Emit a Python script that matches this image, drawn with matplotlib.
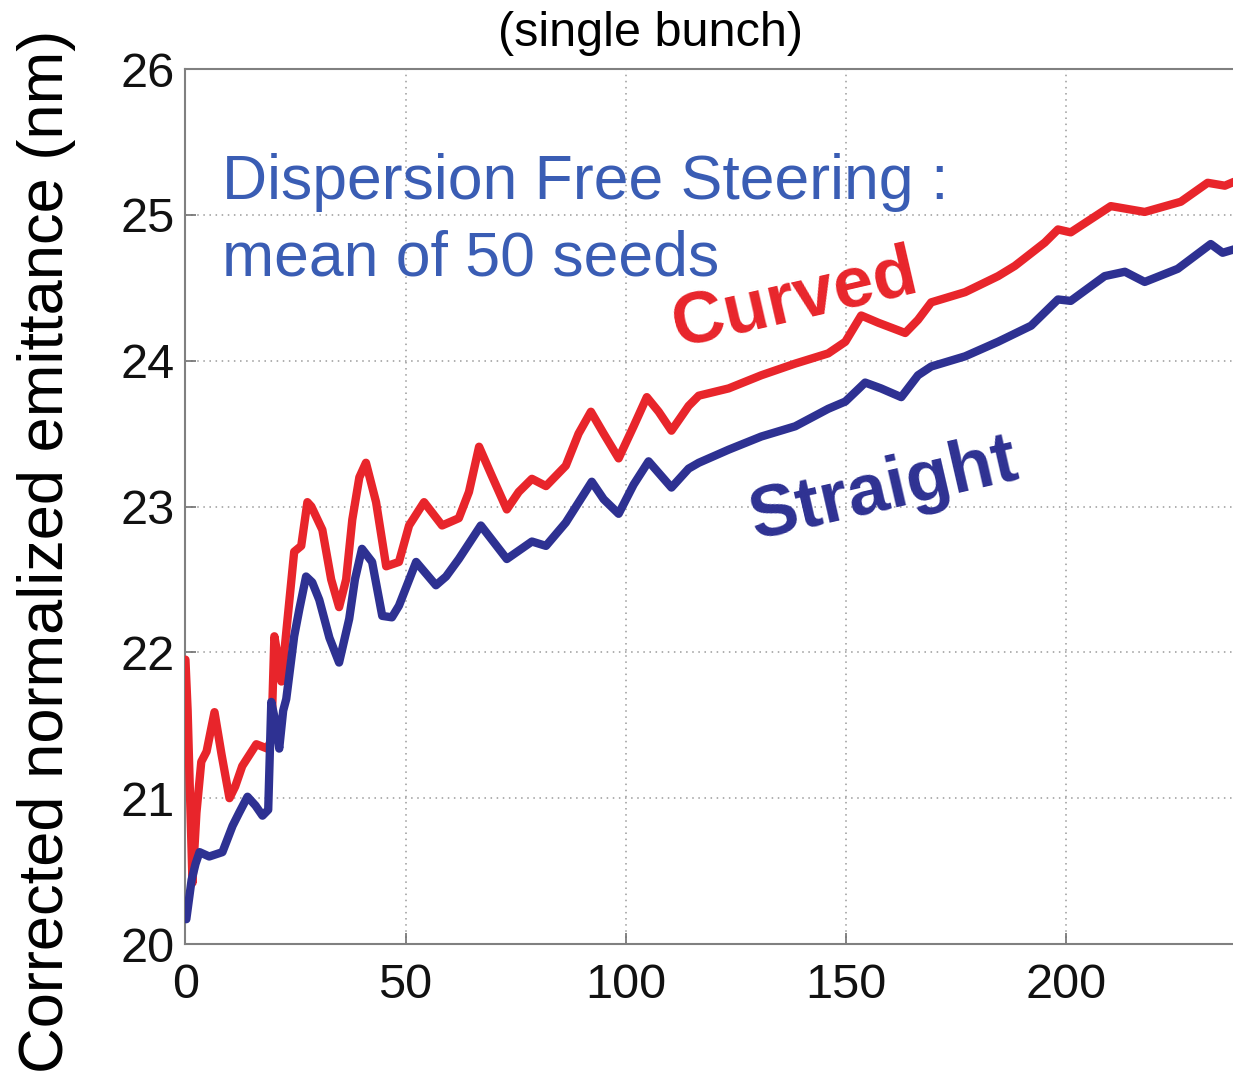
import matplotlib
matplotlib.use("Agg")
import matplotlib.pyplot as plt

plt.rcParams['font.family'] = ['Liberation Sans', 'DejaVu Sans']

# Curved linac (red)
curved_x = [0, 0.5, 1.6, 2.5, 3.6, 4.8, 6.6, 8.2, 10.0, 11.3, 12.9, 16.1, 18.6, 19.5, 20.2,
            21.1, 21.8, 23.1, 24.7, 26.3, 27.7, 28.6, 31.1, 33.1, 34.9, 36.5, 37.9, 39.5,
            41.0, 43.3, 45.6, 48.5, 50.8, 54.2, 58.3, 62.1, 64.4, 66.7, 69.6, 73.0, 75.7,
            78.7, 81.9, 86.4, 89.3, 92.1, 95.0, 98.4, 101.8, 104.8, 107.5, 110.4, 114.3,
            116.6, 123.4, 130.8, 138.5, 146.0, 149.9, 153.5, 157.4, 163.5, 166.4, 169.4,
            177.1, 184.6, 188.4, 195.2, 198.2, 201.1, 210.2, 217.9, 226.1, 232.2, 236.1, 240.0]
curved_y = [21.95, 21.6, 20.42, 20.9, 21.25, 21.32, 21.59, 21.3, 21.0, 21.08, 21.22, 21.37,
            21.34, 21.4, 22.11, 21.95, 21.80, 22.2, 22.69, 22.73, 23.03, 23.0, 22.84, 22.5,
            22.31, 22.5, 22.91, 23.2, 23.30, 23.03, 22.59, 22.62, 22.87, 23.03, 22.87, 22.92,
            23.1, 23.41, 23.21, 22.98, 23.1, 23.19, 23.14, 23.28, 23.5, 23.65, 23.5, 23.33,
            23.55, 23.75, 23.65, 23.52, 23.69, 23.76, 23.81, 23.90, 23.98, 24.05, 24.13,
            24.31, 24.26, 24.19, 24.28, 24.40, 24.47, 24.58, 24.65, 24.81, 24.90, 24.88,
            25.06, 25.02, 25.09, 25.22, 25.20, 25.25]

# Straight linac (blue)
straight_x = [0.2, 1.4, 2.3, 3.2, 5.4, 8.4, 10.7, 12.2, 14.1, 15.9, 17.5, 18.8, 19.5, 20.6,
              21.3, 22.2, 22.9, 24.7, 25.9, 27.4, 28.8, 30.4, 32.7, 34.9, 37.2, 38.5, 40.1,
              42.4, 44.7, 46.9, 48.5, 52.4, 56.9, 59.2, 62.1, 67.1, 73.0, 78.7, 81.9, 86.4,
              92.3, 95.0, 98.4, 101.8, 105.2, 110.4, 114.3, 116.6, 123.4, 130.8, 138.5,
              146.0, 149.9, 154.4, 158.0, 162.6, 166.4, 169.4, 177.1, 184.6, 192.1, 198.2,
              201.1, 208.8, 213.4, 217.9, 225.4, 232.9, 235.6, 240.0]
straight_y = [20.17, 20.44, 20.55, 20.63, 20.60, 20.63, 20.81, 20.9, 21.01, 20.95, 20.88,
              20.92, 21.66, 21.5, 21.34, 21.6, 21.68, 22.11, 22.3, 22.52, 22.48, 22.36, 22.1,
              21.93, 22.23, 22.5, 22.71, 22.62, 22.25, 22.24, 22.32, 22.62, 22.46, 22.52,
              22.64, 22.87, 22.64, 22.76, 22.73, 22.89, 23.17, 23.05, 22.95, 23.15, 23.31,
              23.13, 23.26, 23.30, 23.39, 23.48, 23.55, 23.67, 23.72, 23.85, 23.81, 23.75,
              23.90, 23.96, 24.03, 24.13, 24.24, 24.42, 24.41, 24.58, 24.61, 24.54, 24.63,
              24.80, 24.74, 24.78]

x_ticks = [0, 50, 100, 150, 200]
y_ticks = [20, 21, 22, 23, 24, 25, 26]

RED = '#E8252B'
BLUE = '#2E3192'
TXT_BLUE = '#3A5DB4'

fig = plt.figure(figsize=(12.33, 10.72), dpi=100)
ax = fig.add_axes([0.1504, 0.1194, 0.8569, 0.8162])

ax.plot(curved_x, curved_y, color=RED, lw=6.0, solid_joinstyle='round',
        solid_capstyle='round', zorder=3)
ax.plot(straight_x, straight_y, color=BLUE, lw=6.0, solid_joinstyle='round',
        solid_capstyle='round', zorder=3)

ax.set_xlim(0, 240)
ax.set_ylim(20, 26)
ax.set_xticks(x_ticks)
ax.set_yticks(y_ticks)
ax.tick_params(axis='both', direction='in', labelsize=35, length=8, width=1.2,
               color='#707070', labelcolor='#111111')
ax.tick_params(axis='x', pad=14)
ax.tick_params(axis='y', pad=8)
ax.grid(True, linestyle=(0, (1, 3)), color='#9a9a9a', lw=1.1)
for s in ['left', 'bottom', 'top']:
    ax.spines[s].set_color('#808080')
    ax.spines[s].set_linewidth(1.5)
ax.spines['right'].set_visible(False)

fig.text(650/1233, 1 - 33/1072, '(single bunch)', ha='center', va='center',
         fontsize=35, color='black')
fig.text(47/1233, 1 - 551/1072, 'Corrected normalized emittance (nm)', rotation=90,
         ha='center', va='center', fontsize=45.5, color='black')

fig.text(222/1233, 1 - 199/1072, 'Dispersion Free Steering :', ha='left', va='baseline',
         fontsize=45, color=TXT_BLUE)
fig.text(222/1233, 1 - 275/1072, 'mean of 50 seeds', ha='left', va='baseline',
         fontsize=45, color=TXT_BLUE)

fig.text(795/1233, 1 - 300/1072, 'Curved', ha='center', va='center', rotation=13,
         rotation_mode='anchor', fontsize=52, fontweight='bold', color=RED)
fig.text(884/1233, 1 - 490/1072, 'Straight', ha='center', va='center', rotation=13,
         rotation_mode='anchor', fontsize=52, fontweight='bold', color=BLUE)

fig.savefig('out.png', dpi=100)
